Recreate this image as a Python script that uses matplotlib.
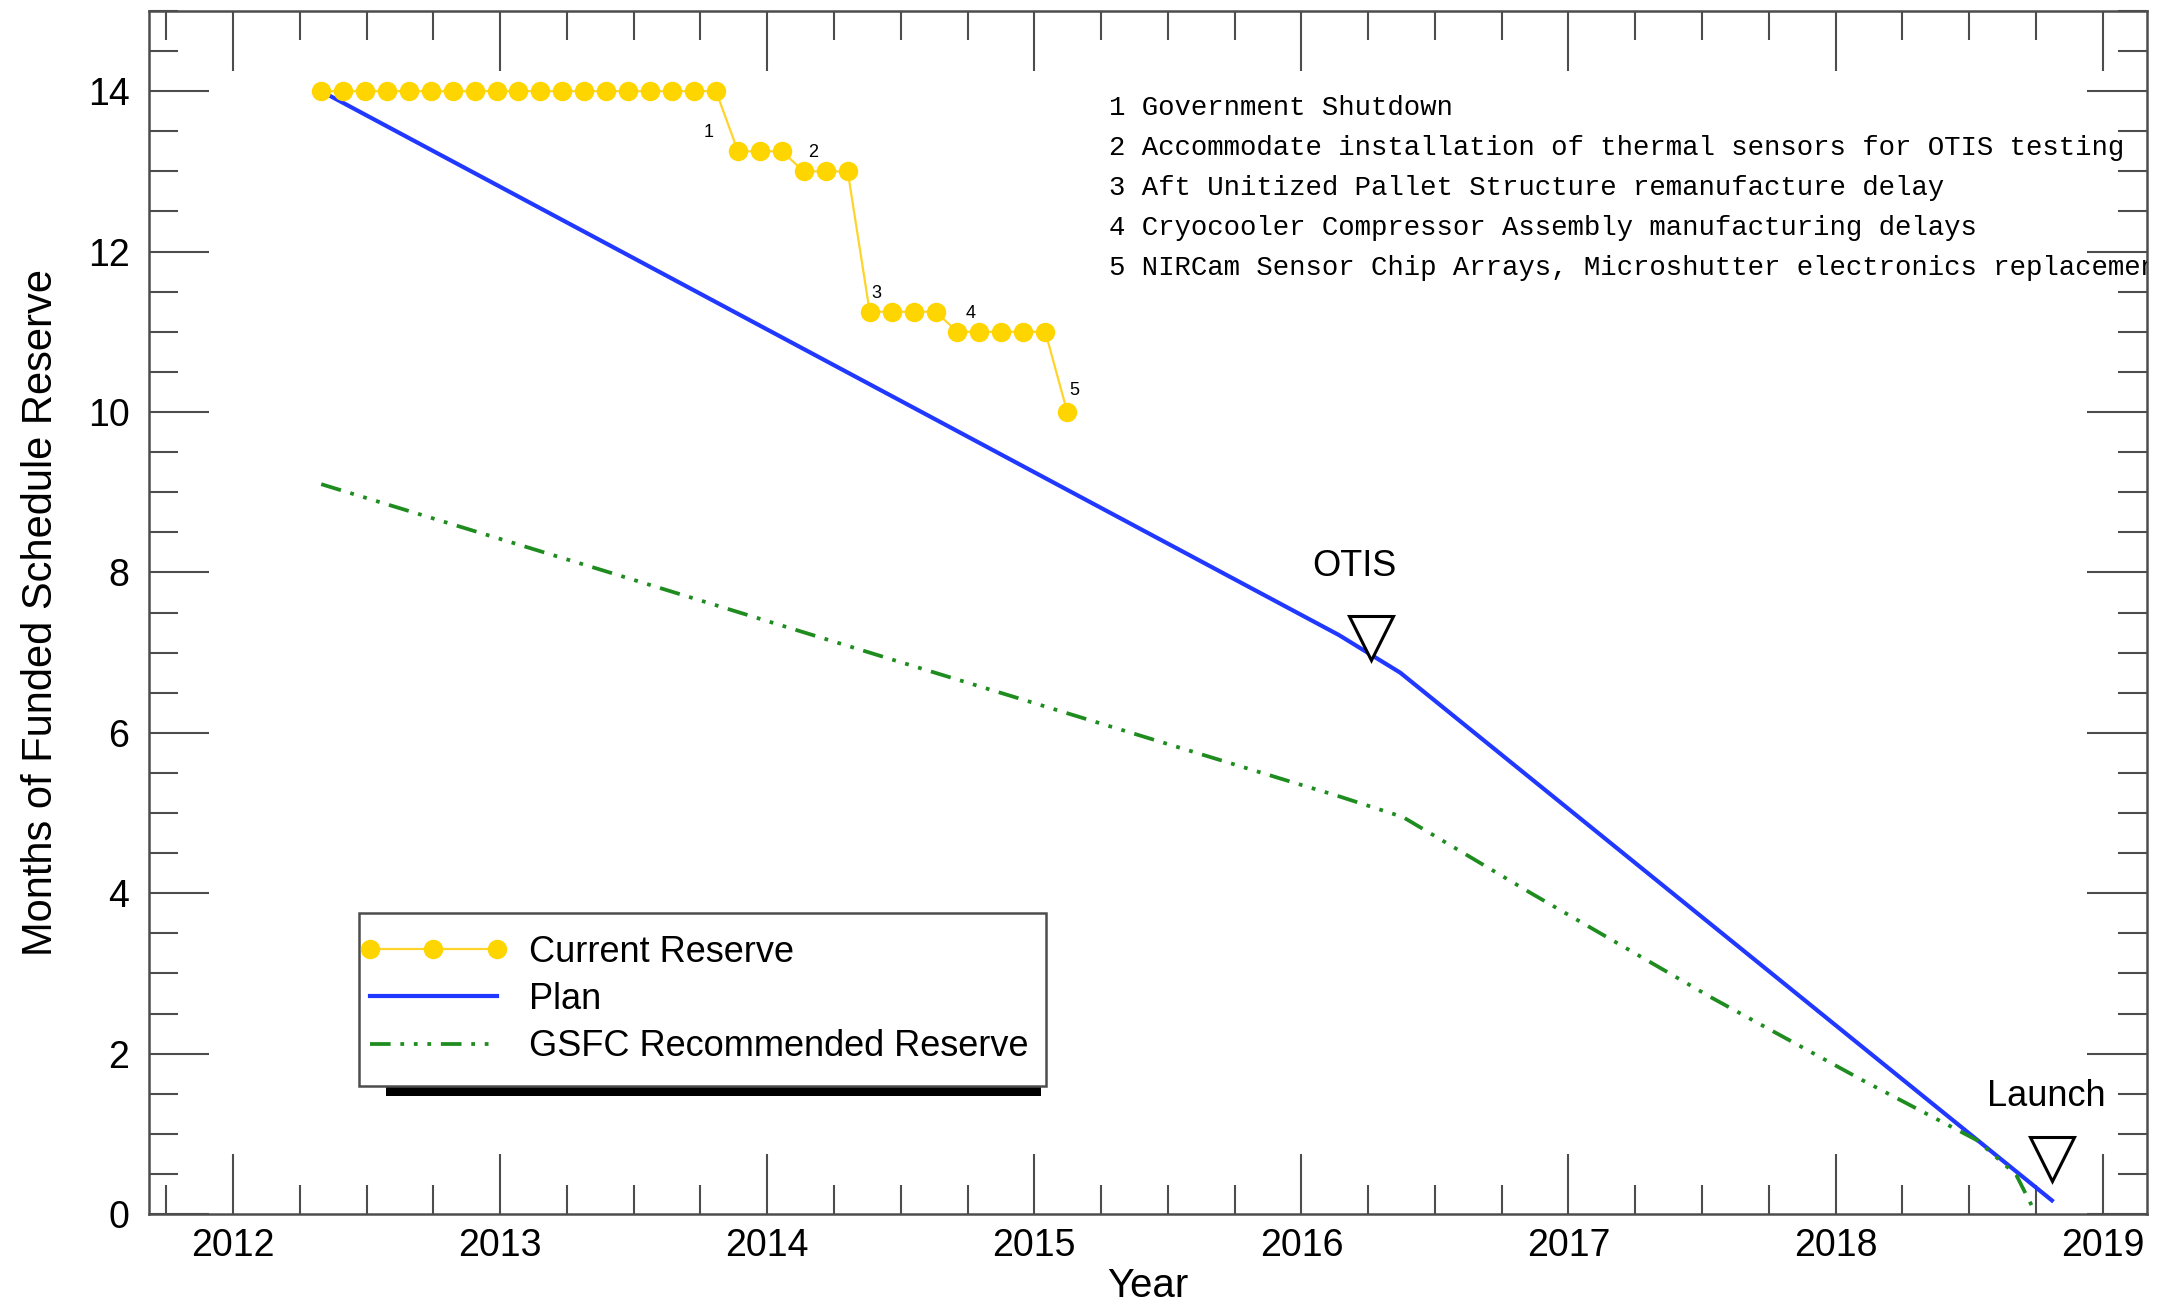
import matplotlib
matplotlib.use("Agg")
import matplotlib.pyplot as plt
import numpy as np
import pandas as pd
from matplotlib.ticker import MultipleLocator
from matplotlib.patches import Rectangle
from matplotlib.transforms import IdentityTransform

plt.rcParams["font.family"] = ["Liberation Sans", "DejaVu Sans"]

# current reserve, one reading roughly every month from May 2012
current_dates = pd.date_range("2012-05-01", periods=35, freq="30D")
current_reserve = [14, 14, 14, 14, 14, 14, 14, 14, 14, 14, 14, 14, 14, 14, 14, 14, 14, 14, 14,
                   13.25, 13.25, 13.25, 13.0, 13.0, 13.0,
                   11.25, 11.25, 11.25, 11.25, 11.0, 11.0, 11.0, 11.0, 11.0, 10.0]

# plan line (decimal year, months)
plan_x = [2012.33, 2016.14, 2016.37, 2018.81]
plan_y = [14.0, 7.22, 6.75, 0.17]

# GSFC recommended reserve
gsfc_x = [2012.33, 2013.37, 2014.51, 2015.98, 2016.13, 2016.38, 2016.86, 2017.54,
          2018.10, 2018.53, 2018.676, 2018.743]
gsfc_y = [9.10, 8.04, 6.87, 5.37, 5.22, 4.95, 4.00, 2.69, 1.67, 0.92, 0.49, 0.05]

# milestones
milestone_names = ["OTIS", "Launch"]
milestone_x = [2016.26, 2018.81]
milestone_y = [7.18, 0.69]
milestone_label_x = [2016.20, 2018.79]
milestone_label_y = [8.07, 1.46]

# event markers and notes
event_nums = ["1", "2", "3", "4", "5"]
event_x = [2013.78, 2014.17, 2014.41, 2014.76, 2015.15]
event_y = [13.48, 13.23, 11.48, 11.23, 10.27]
notes = ["1 Government Shutdown",
         "2 Accommodate installation of thermal sensors for OTIS testing",
         "3 Aft Unitized Pallet Structure remanufacture delay",
         "4 Cryocooler Compressor Assembly manufacturing delays",
         "5 NIRCam Sensor Chip Arrays, Microshutter electronics replacement"]
notes_y = [13.79, 13.29, 12.79, 12.29, 11.79]

# dates -> decimal years
days_in_year = np.where(current_dates.is_leap_year, 366, 365)
current_x = current_dates.year + (current_dates.dayofyear - 1) / days_in_year

fig = plt.figure(figsize=(21.68, 13.05), dpi=100)
ax = fig.add_axes([0.0687, 0.0697, 0.9216, 0.9219])

ax.plot(current_x, current_reserve, color="#FFD42A", lw=1.6, marker="o", ms=13,
        mfc="#FFD500", mec="#FFD500", label="Current Reserve", zorder=4)
ax.plot(plan_x, plan_y, color="#2038FF", lw=3, label="Plan", zorder=3)
ax.plot(gsfc_x, gsfc_y, color="#1E8C1E", lw=2.7, dash_capstyle="butt",
        linestyle=(0, (5.5, 2.6, 1, 2.6, 1, 2.6, 1, 2.6)),
        label="GSFC Recommended Reserve", zorder=3)

ax.plot(milestone_x, milestone_y, linestyle="none", marker="v", ms=32,
        mfc="white", mec="black", mew=2.2, zorder=5)
for name, lx, ly in zip(milestone_names, milestone_label_x, milestone_label_y):
    ax.text(lx, ly, name, fontsize=26, ha="center", va="center")

for num, ex, ey in zip(event_nums, event_x, event_y):
    ax.text(ex, ey, num, fontsize=13, ha="center", va="center")

for note, ny in zip(notes, notes_y):
    ax.text(2015.28, ny, note, fontsize=19.7, family=["Liberation Mono", "DejaVu Sans Mono"],
            ha="left", va="center", clip_on=True)

ax.set_xlim(2011.685, 2019.166)
ax.set_ylim(0, 15)
ax.xaxis.set_major_locator(MultipleLocator(1))
ax.xaxis.set_minor_locator(MultipleLocator(0.25))
ax.yaxis.set_major_locator(MultipleLocator(2))
ax.yaxis.set_minor_locator(MultipleLocator(0.5))
ax.tick_params(which="both", direction="in", top=True, right=True, color="#4d4d4d",
               width=1.5, labelsize=27)
ax.tick_params(which="major", length=43)
ax.tick_params(which="minor", length=21)
ax.tick_params(axis="x", pad=10)
ax.tick_params(axis="y", pad=14)
for sp in ax.spines.values():
    sp.set_color("#4d4d4d")
    sp.set_linewidth(1.8)

ax.set_xlabel("Year", fontsize=29, labelpad=2)
ax.set_ylabel("Months of Funded Schedule Reserve", fontsize=30, labelpad=19)

# legend without its own frame; frame and shadow drawn below
leg = ax.legend(loc="upper left", bbox_to_anchor=(0.1053, 0.2322), borderaxespad=0,
                fontsize=26, numpoints=3, handlelength=4.1, handletextpad=0.6,
                labelspacing=0.34, borderpad=0, frameon=False)
leg.set_zorder(10)

fig.canvas.draw()
bb = leg.get_window_extent()
fx0, fx1 = bb.x0, bb.x1 + 17
fy0, fy1 = bb.y0 - 22, bb.y1 + 22
fig.patches.append(Rectangle((fx0 + 27, fy0 - 10), fx1 - fx0 - 32, 10,
                             transform=IdentityTransform(), facecolor="black",
                             edgecolor="none", zorder=8))
fig.patches.append(Rectangle((fx0, fy0), fx1 - fx0, fy1 - fy0,
                             transform=IdentityTransform(), facecolor="white",
                             edgecolor="#4d4d4d", lw=1.8, zorder=9))
# put the frame under the legend entries
leg.remove()
fig.add_artist(leg)
leg.set_zorder(10)

fig.savefig("out.png", dpi=100)
